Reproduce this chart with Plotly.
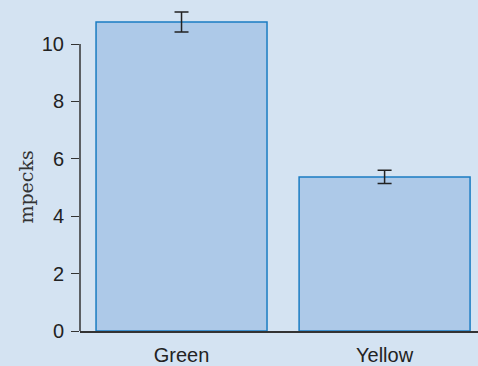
import plotly.graph_objects as go

categories = ["Green", "Yellow"]
means = [10.77, 5.37]
errors = [0.35, 0.23]
y_ticks = [0, 2, 4, 6, 8, 10]
y_title = "mpecks"

bg = "#d4e3f2"
fig = go.Figure(
    go.Bar(
        x=categories,
        y=means,
        marker=dict(color="#adc9e8", line=dict(color="#1a7cc2", width=1.5)),
        error_y=dict(type="data", array=errors, visible=True,
                     color="#222222", thickness=1.5, width=7),
    )
)

fig.update_layout(
    width=478, height=366,
    margin=dict(l=80, r=0, t=5, b=35),
    paper_bgcolor=bg, plot_bgcolor=bg,
    bargap=0.158,
    showlegend=False,
    font=dict(family="Liberation Sans, Arial, sans-serif", size=20, color="#222222"),
)
fig.update_xaxes(
    range=[-0.5, 1.46],
    showline=True, linecolor="#333333", linewidth=1.5,
    ticks="", showgrid=False, zeroline=False,
    tickfont=dict(size=20),
    ticklabelstandoff=5,
)
fig.update_yaxes(
    range=[0, 11.36],
    tickvals=y_ticks,
    ticks="outside", ticklen=8, tickwidth=1.2, tickcolor="#333333",
    showline=False, showgrid=False, zeroline=False,
    tickfont=dict(size=20),
    ticklabelstandoff=3,
)
# left axis line spanning only the labelled range
fig.add_shape(type="line", xref="paper", yref="y", x0=0, x1=0,
              y0=y_ticks[0], y1=y_ticks[-1],
              line=dict(color="#333333", width=1.5), layer="above")
# axis title centred on the labelled range
fig.add_annotation(text=y_title, textangle=-90, showarrow=False,
                   xref="paper", yref="y", x=-0.138,
                   y=(y_ticks[0] + y_ticks[-1]) / 2,
                   xanchor="center", yanchor="middle",
                   font=dict(family="DejaVu Serif, serif", size=19, color="#333333"))

fig.write_html("out.html")
